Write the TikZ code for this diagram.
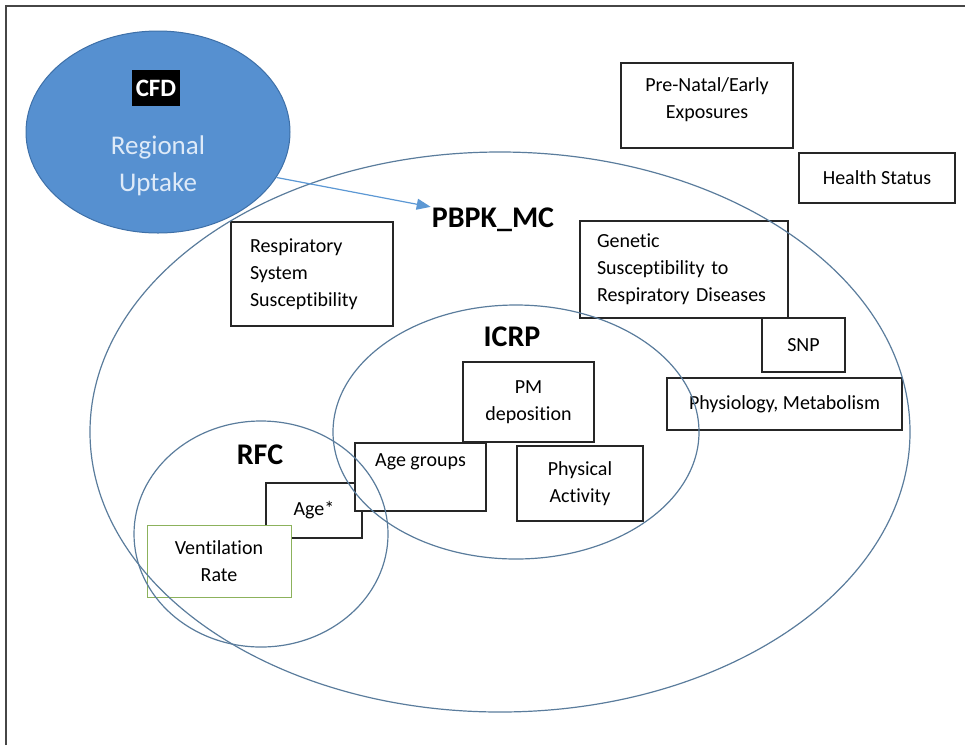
\documentclass[tikz,border=0pt]{standalone}
\usepackage{fontspec}
\setmainfont{Carlito}[Ligatures=NoCommon]
\usepackage{xcolor}
\definecolor{cfdblue}{RGB}{86,144,208}
\definecolor{cfdedge}{RGB}{62,112,168}
\definecolor{cfdtext}{RGB}{222,234,248}
\definecolor{zoneline}{RGB}{90,124,156}
\definecolor{arrowblue}{RGB}{92,152,212}
\definecolor{ventgreen}{RGB}{140,178,92}
\definecolor{framegray}{RGB}{70,70,70}
\usetikzlibrary{shapes.geometric,arrows.meta,positioning}
\tikzset{
  fc_box/.style={rectangle,
    draw=black!85,fill=white,line width=1.1pt,
    font=\fontsize{20}{27}\selectfont,
    align=center,inner sep=0pt},
  fc_zone/.style={ellipse,
    draw=zoneline,line width=1.2pt,inner sep=0pt},
  fc_zlabel/.style={font=\fontsize{30}{32}\selectfont\bfseries,
    inner sep=1pt},
  arr/.style={-{Triangle[length=14pt,width=11pt]},line width=1.2pt,
    draw=arrowblue,fill=arrowblue},
}

\begin{document}
\begin{tikzpicture}[x=1pt,y=-1pt]
  \useasboundingbox (0,0) rectangle (965,745);
  \draw[framegray,line width=1.3pt] (6,745) -- (6,6) -- (965,6);

  % CFD bubble
  \node (cfd) [ellipse,draw=cfdedge,fill=cfdblue,line width=1pt,
               minimum width=264,minimum height=202] at (158,132) {};
  \node (cfdtag) [fill=black,text=white,inner sep=0pt,
                  minimum width=48,minimum height=36,
                  font=\fontsize{25}{26}\selectfont\bfseries] at (156,88) {CFD};
  \node (uptake) [text=cfdtext,align=center,
                  font=\fontsize{27}{37}\selectfont] at (158,166)
    {Regional\\Uptake};

  % boxes (Age* first, it sits behind its neighbours)
  \node (agestar) [fc_box,minimum width=96,minimum height=55]
    at (314,510.5) {Age*};
  \node (agegrp)  [fc_box,minimum width=131,minimum height=68,
                   text depth=34pt] at (420.5,477) {Age groups};
  \node (vent)    [fc_box,draw=ventgreen,line width=1pt,
                   minimum width=144,minimum height=72]
    at (219,561) {Ventilation\\Rate};
  \node (pmdep)   [fc_box,minimum width=131,minimum height=80]
    at (528.5,402) {PM\\deposition};
  \node (physact) [fc_box,minimum width=126,minimum height=75]
    at (580,483.5) {Physical\\Activity};
  \node (resp)    [fc_box,align=left,text width=124,
                   minimum width=162,minimum height=104]
    at (312,274) {Respiratory\\System\\Susceptibility};
  \node (genetic) [fc_box,align=left,text width=174,
                   minimum width=208,minimum height=97]
    at (684,269.5) {Genetic\\Susceptibility to\\Respiratory Diseases};
  \node (snp)     [fc_box,minimum width=83,minimum height=54]
    at (803.5,345) {SNP};
  \node (physio)  [fc_box,minimum width=235,minimum height=52]
    at (784.5,404) {Physiology, Metabolism};
  \node (prenatal)[fc_box,minimum width=172,minimum height=85,
                   text depth=14pt]
    at (707,105.5) {Pre-Natal/Early\\Exposures};
  \node (health)  [fc_box,minimum width=156,minimum height=50]
    at (877,178) {Health Status};

  % nested model zones
  \node (pbpkzone) [fc_zone,minimum width=820,minimum height=560] at (500,432) {};
  \node (icrpzone) [fc_zone,minimum width=366,minimum height=254] at (516,432) {};
  \node (rfczone)  [fc_zone,minimum width=254,minimum height=226] at (261,534) {};

  \node (pbpk) [fc_zlabel] at (493,220) {PBPK\_MC};
  \node (icrp) [fc_zlabel] at (512,337) {ICRP};
  \node (rfc)  [fc_zlabel] at (260,455) {RFC};

  \draw[arr] (cfd.-21) -- (pbpk.north west);
\end{tikzpicture}
\end{document}
